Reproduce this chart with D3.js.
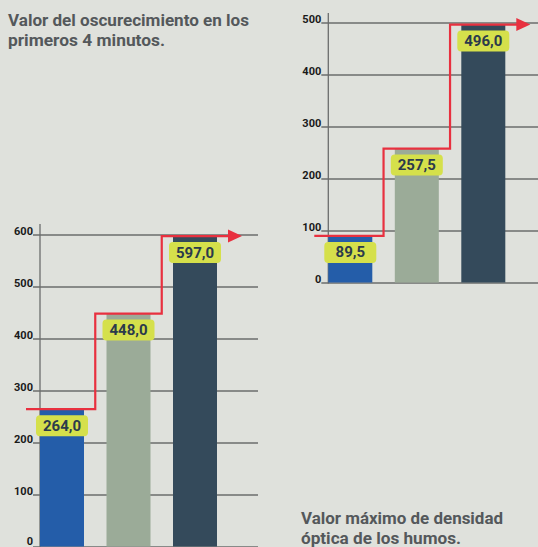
<!DOCTYPE html>
<html><head><meta charset="utf-8">
<script src="https://cdn.jsdelivr.net/npm/d3@7"></script>
<style>
html,body{margin:0;padding:0;background:#dfe1dc;}
svg{display:block;}
</style></head>
<body>
<script>
const categories = ["Muestra 1", "Muestra 2", "Muestra 3"];
const obscurationValues = [264.0, 448.0, 597.0];
const densityValues = [89.5, 257.5, 496.0];
const obscurationTicks = [0, 100, 200, 300, 400, 500, 600];
const densityTicks = [0, 100, 200, 300, 400, 500];
const barColors = ["#245da9", "#9bab98", "#344a5b"];
const titleObscuration = ["Valor del oscurecimiento en los", "primeros 4 minutos."];
const titleDensity = ["Valor máximo de densidad", "óptica de los humos."];

const W = 538, H = 547;
const svg = d3.select("body").append("svg").attr("width", W).attr("height", H);
svg.append("rect").attr("width", W).attr("height", H).attr("fill", "#dfe1dc");

const fmt = d3.formatLocale({decimal: ",", thousands: ".", grouping: [3], currency: ["", "€"]}).format(".1f");

function drawChart(cfg) {
  const g = svg.append("g");
  const y = d3.scaleLinear().domain(cfg.domain).range([cfg.y0, cfg.yTop]);
  const x = d3.scaleBand().domain(categories).range([cfg.axisX, cfg.axisX + 177])
    .paddingInner(1 - 44 / 66.5).paddingOuter(0).align(0);

  // gridlines + tick labels
  const axis = d3.axisLeft(y).tickValues(cfg.ticks).tickSize(-(cfg.gridEnd - cfg.axisX)).tickFormat(d3.format("d"));
  const ag = g.append("g").attr("transform", `translate(${cfg.axisX},0)`).call(axis);
  ag.select(".domain").remove();
  ag.selectAll(".tick line").attr("stroke", "#6b6d6c").attr("stroke-width", 1.3).attr("x1", -7);
  ag.selectAll(".tick text").attr("x", -7).attr("dy", "0")
    .attr("y", d => (y(d) > H - 3 ? -2 : 0)).attr("fill", "#1a1a1a")
    .attr("font-family", "Roboto, sans-serif").attr("font-weight", 700).attr("font-size", 11);

  // vertical axis line
  g.append("line").attr("x1", cfg.axisX).attr("x2", cfg.axisX)
    .attr("y1", cfg.axisTop).attr("y2", cfg.y0 + 1).attr("stroke", "#6b6d6c").attr("stroke-width", 1.3);

  // bars
  g.selectAll("rect.bar").data(cfg.values).join("rect").attr("class", "bar")
    .attr("x", (d, i) => x(categories[i])).attr("width", x.bandwidth())
    .attr("y", d => y(d)).attr("height", d => cfg.y0 - y(d))
    .attr("fill", (d, i) => barColors[i]);

  // red step line
  const bw = x.bandwidth(), step = x.step();
  const pts = [];
  cfg.values.forEach((d, i) => {
    const left = i === 0 ? x(categories[0]) - 14 : x(categories[i]) - (step - bw) / 2;
    const right = i === cfg.values.length - 1 ? x(categories[i]) + bw + 12 : x(categories[i]) + bw + (step - bw) / 2;
    pts.push([left, y(d)], [right, y(d)]);
  });
  g.append("path").attr("d", d3.line()(pts)).attr("fill", "none")
    .attr("stroke", "#e8303f").attr("stroke-width", 2.2).attr("stroke-linejoin", "miter");
  const last = pts[pts.length - 1];
  g.append("path").attr("d", d3.line()([[last[0] - 1, last[1] - 6.5], [last[0] + 13, last[1]], [last[0] - 1, last[1] + 6.5]]) + "Z")
    .attr("fill", "#e8303f");

  // value labels
  const lg = g.selectAll("g.lab").data(cfg.values).join("g").attr("class", "lab")
    .attr("transform", (d, i) => `translate(${x(categories[i]) + bw / 2},${y(d) + 6})`);
  lg.append("rect").attr("x", -26).attr("y", 0).attr("width", 52).attr("height", 21).attr("rx", 4)
    .attr("fill", "#d5e04b");
  lg.append("text").attr("x", 0).attr("y", 15.5).attr("text-anchor", "middle")
    .attr("font-family", "Roboto, sans-serif").attr("font-weight", 700).attr("font-size", 15)
    .attr("fill", "#2b3a4b").text(d => fmt(d));
}

drawChart({values: obscurationValues, ticks: obscurationTicks, domain: [0, 600],
  y0: 546.5, yTop: 234.5, axisX: 40, axisTop: 224, gridEnd: 258});
drawChart({values: densityValues, ticks: densityTicks, domain: [0, 500],
  y0: 282.5, yTop: 22.5, axisX: 328.3, axisTop: 13, gridEnd: 540});

function title(lines, x, y0, widths) {
  lines.forEach((t, i) => {
    svg.append("text").attr("x", x).attr("y", y0 + i * 19.5)
      .attr("font-family", "Roboto, sans-serif").attr("font-weight", 700).attr("font-size", 16)
      .attr("fill", "#54585b").attr("textLength", widths[i]).attr("lengthAdjust", "spacingAndGlyphs").text(t);
  });
}
title(titleObscuration, 8, 26, [241, 157]);
title(titleDensity, 301, 524.3, [202, 160]);
</script>
</body></html>
